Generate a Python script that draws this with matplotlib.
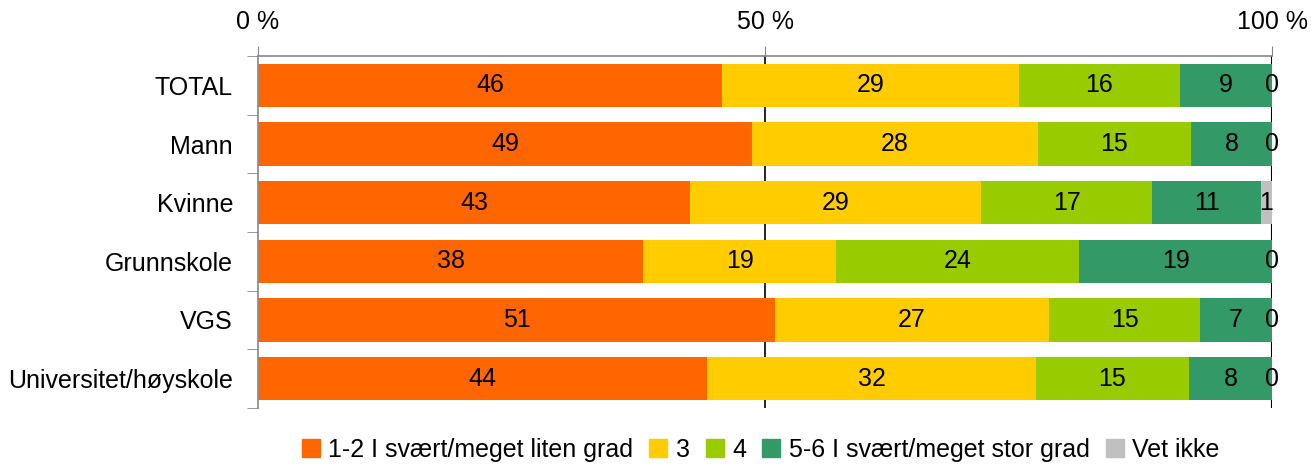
import matplotlib.pyplot as plt
from matplotlib.lines import Line2D
import numpy as np

plt.rcParams['font.family'] = ['Liberation Sans', 'DejaVu Sans']

groups = ['TOTAL', 'Mann', 'Kvinne', 'Grunnskole', 'VGS', 'Universitet/høyskole']
series = ['1-2 I svært/meget liten grad', '3', '4', '5-6 I svært/meget stor grad', 'Vet ikke']
colors = ['#FF6600', '#FFCC00', '#99CC00', '#339966', '#C0C0C0']

# percent per group
s12 = [45.8, 48.7, 42.6, 38.0, 51.0, 44.3]
s3 = [29.2, 28.2, 28.7, 19.0, 27.0, 32.4]
s4 = [15.9, 15.1, 16.9, 24.0, 14.9, 15.1]
s56 = [9.1, 8.0, 10.7, 19.0, 7.1, 8.2]
vet = [0.0, 0.0, 1.1, 0.0, 0.0, 0.0]
values = [s12, s3, s4, s56, vet]

fig = plt.figure(figsize=(13.11, 4.66), dpi=100)
ax = fig.add_axes([0.1968, 0.1245, 0.7735, 0.7553])

y = np.arange(len(groups))
left = np.zeros(len(groups))
for vals, col in zip(values, colors):
    vals = np.array(vals)
    ax.barh(y, vals, left=left, height=0.74, color=col, zorder=2)
    for yi, l, v in zip(y, left, vals):
        ax.text(l + v / 2, yi, '%.0f' % v, ha='center', va='center', fontsize=18, zorder=3)
    left = left + vals

ax.axvline(50, color='black', lw=1.2, zorder=1)
ax.axvline(100, color='black', lw=1.5, zorder=1)

ax.set_xlim(0, 100)
ax.set_ylim(len(groups) - 0.5, -0.5)
ax.xaxis.tick_top()
ax.set_xticks([0, 50, 100])
ax.set_xticklabels(['0 %', '50 %', '100 %'], fontsize=18)
ax.tick_params(axis='x', direction='out', length=7, color='#888888', pad=9)

ax.set_yticks(y)
ax.set_yticklabels(groups, fontsize=18)
ax.set_yticks(np.arange(len(groups) + 1) - 0.5, minor=True)
ax.tick_params(axis='y', which='major', length=0, pad=18)
ax.tick_params(axis='y', which='minor', direction='out', length=8, color='#888888')

for side in ['right', 'bottom']:
    ax.spines[side].set_visible(False)
for side in ['left', 'top']:
    ax.spines[side].set_color('#888888')
    ax.spines[side].set_linewidth(1.2)

handles = [Line2D([], [], marker='s', linestyle='none', markersize=13, color=c) for c in colors]
fig.legend(handles, series, loc='center', bbox_to_anchor=(0.578, 0.035), ncol=5, frameon=False,
           fontsize=18, handletextpad=0.1, columnspacing=0.4, handlelength=1.2)

fig.savefig('out.png', dpi=100)
